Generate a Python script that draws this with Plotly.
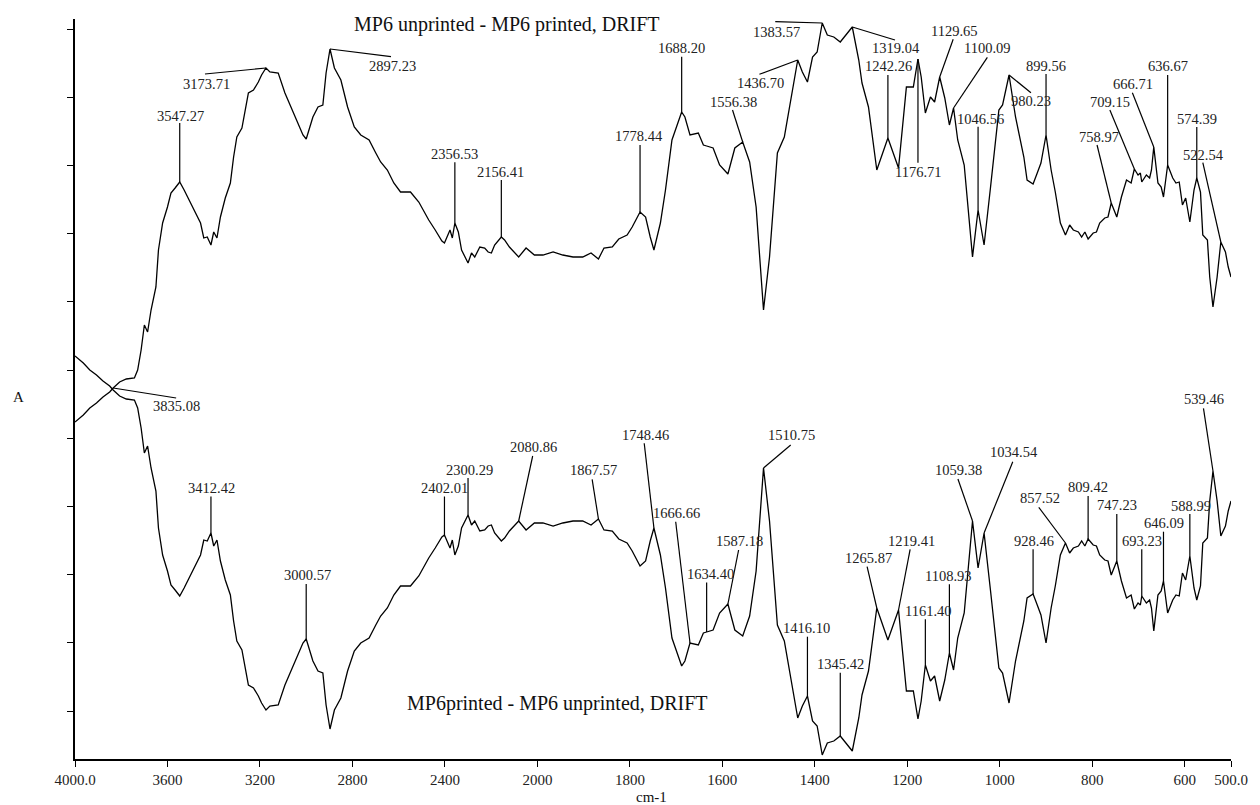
import plotly.graph_objects as go

# ---------------- data ----------------
wavenumber = [4000, 3964, 3936, 3907, 3879, 3850, 3835, 3807, 3778, 3743,
              3729, 3714, 3700, 3686, 3671, 3650, 3639, 3621, 3600, 3585,
              3567, 3547, 3528, 3500, 3478, 3457, 3443, 3428, 3412, 3400,
              3386, 3371, 3350, 3328, 3314, 3300, 3278, 3264, 3250, 3228,
              3207, 3193, 3174, 3157, 3121, 3092, 3064, 3035, 3014, 3000,
              2971, 2949, 2928, 2914, 2897, 2878, 2850, 2821, 2792, 2764,
              2728, 2699, 2678, 2649, 2621, 2592, 2549, 2513, 2470, 2442,
              2413, 2402, 2378, 2368, 2357, 2342, 2328, 2300, 2285, 2271,
              2249, 2228, 2213, 2199, 2185, 2156, 2142, 2121, 2081, 2049,
              2013, 1988, 1966, 1945, 1923, 1902, 1884, 1868, 1856, 1838,
              1824, 1806, 1795, 1778, 1766, 1756, 1748, 1734, 1723, 1709,
              1688, 1681, 1670, 1652, 1641, 1634, 1620, 1606, 1588, 1573,
              1556, 1541, 1527, 1511, 1498, 1481, 1466, 1437, 1427, 1416,
              1405, 1395, 1384, 1373, 1359, 1345, 1327, 1319, 1305, 1298,
              1284, 1266, 1242, 1219, 1202, 1187, 1177, 1170, 1161, 1150,
              1141, 1130, 1119, 1109, 1100, 1091, 1077, 1059, 1047, 1034,
              1020, 1002, 994, 980, 966, 948, 941, 928, 919, 911,
              900, 889, 880, 869, 858, 849, 841, 830, 823, 816,
              809, 798, 791, 784, 773, 766, 759, 747, 737, 726,
              716, 709, 701, 696, 693, 683, 676, 672, 667, 658,
              651, 646, 637, 626, 619, 612, 605, 598, 589, 580,
              574, 566, 561, 551, 546, 539, 530, 522, 512, 506,
              500]

# MP6 unprinted - MP6 printed (upper trace), arbitrary absorbance units
unprinted_minus_printed = [
    31.8, 32.5, 33.2, 33.7, 34.3, 34.8, 35.2, 35.8, 36.1, 36.2,
    37.0, 39.0, 41.5, 40.8, 43.0, 45.3, 49.0, 51.7, 53.3, 54.7,
    55.2, 55.8, 55.0, 53.7, 52.8, 51.7, 50.2, 50.3, 49.5, 50.8,
    50.2, 52.3, 54.2, 55.7, 58.3, 60.3, 61.2, 63.0, 64.7, 65.0,
    65.8, 66.5, 67.2, 66.8, 66.7, 64.7, 63.2, 61.8, 60.5, 60.1,
    62.3, 63.3, 63.5, 66.7, 69.1, 67.2, 66.0, 63.3, 61.3, 60.5,
    60.0, 58.7, 57.8, 57.0, 55.7, 54.8, 54.8, 53.8, 52.0, 51.0,
    49.9, 49.7, 51.0, 50.2, 51.7, 50.8, 49.0, 47.7, 48.7, 48.3,
    49.3, 49.2, 48.8, 48.7, 49.5, 50.3, 50.0, 49.3, 48.3, 49.2,
    48.5, 48.5, 48.8, 48.5, 48.3, 48.3, 48.7, 48.1, 49.2, 49.3,
    50.1, 50.5, 51.3, 52.8, 52.3, 50.3, 49.0, 51.7, 55.0, 60.0,
    62.8, 62.3, 60.5, 60.7, 59.5, 59.4, 59.2, 57.5, 56.6, 59.2,
    59.8, 57.8, 53.3, 43.0, 48.3, 58.7, 60.3, 68.0, 66.8, 65.8,
    68.3, 68.8, 71.7, 70.5, 70.3, 69.8, 70.8, 71.3, 68.0, 65.7,
    63.3, 57.0, 60.2, 57.2, 65.3, 65.3, 68.1, 66.3, 62.7, 64.3,
    63.8, 66.3, 64.2, 61.5, 63.2, 60.0, 57.5, 48.3, 53.0, 49.5,
    55.3, 63.0, 63.5, 66.5, 62.3, 58.3, 56.0, 55.6, 56.7, 57.7,
    60.5, 57.0, 54.8, 51.7, 50.5, 51.5, 51.0, 50.8, 50.3, 50.8,
    50.1, 50.7, 50.8, 51.7, 52.2, 52.3, 53.7, 52.3, 54.3, 56.0,
    55.7, 57.1, 56.5, 56.7, 55.8, 56.5, 56.2, 57.0, 59.3, 55.7,
    55.3, 54.3, 57.5, 56.2, 55.7, 55.8, 53.5, 54.2, 51.8, 55.0,
    56.2, 54.8, 50.5, 50.0, 46.3, 43.3, 46.3, 49.8, 48.8, 47.3,
    46.3]

# MP6 printed - MP6 unprinted (lower trace), arbitrary absorbance units
printed_minus_unprinted = [
    38.4, 37.7, 37.0, 36.5, 35.9, 35.4, 35.0, 34.4, 34.1, 34.0,
    33.2, 31.2, 28.7, 29.4, 27.2, 24.9, 21.2, 18.5, 16.9, 15.5,
    15.0, 14.4, 15.2, 16.5, 17.4, 18.5, 20.0, 19.9, 20.7, 19.4,
    20.0, 17.9, 16.0, 14.5, 11.9, 9.9, 9.0, 7.2, 5.5, 5.2,
    4.4, 3.7, 3.0, 3.4, 3.5, 5.5, 7.0, 8.4, 9.7, 10.1,
    7.9, 6.9, 6.7, 3.5, 1.1, 3.0, 4.2, 6.9, 8.9, 9.7,
    10.2, 11.5, 12.4, 13.2, 14.5, 15.4, 15.4, 16.4, 18.2, 19.2,
    20.3, 20.5, 19.2, 20.0, 18.5, 19.4, 21.2, 22.5, 21.5, 21.9,
    20.9, 21.0, 21.4, 21.5, 20.7, 19.9, 20.2, 20.9, 21.9, 21.0,
    21.7, 21.7, 21.4, 21.7, 21.9, 21.9, 21.5, 22.1, 21.0, 20.9,
    20.1, 19.7, 18.9, 17.4, 17.9, 19.9, 21.2, 18.5, 15.2, 10.2,
    7.4, 7.9, 9.7, 9.5, 10.7, 10.8, 11.0, 12.7, 13.6, 11.0,
    10.4, 12.4, 16.9, 27.2, 21.9, 11.5, 9.9, 2.2, 3.4, 4.4,
    1.9, 1.4, -1.5, -0.3, -0.1, 0.4, -0.6, -1.1, 2.2, 4.5,
    6.9, 13.2, 10.0, 13.0, 4.9, 4.9, 2.1, 3.9, 7.5, 5.9,
    6.4, 3.9, 6.0, 8.7, 7.0, 10.2, 12.7, 21.9, 17.2, 20.7,
    14.9, 7.2, 6.7, 3.7, 7.9, 11.9, 14.2, 14.6, 13.5, 12.5,
    9.7, 13.2, 15.4, 18.5, 19.7, 18.7, 19.2, 19.4, 19.9, 19.4,
    20.1, 19.5, 19.4, 18.5, 18.0, 17.9, 16.5, 17.9, 15.9, 14.2,
    14.5, 13.1, 13.7, 13.5, 14.4, 13.7, 14.0, 13.2, 10.9, 14.5,
    14.9, 15.9, 12.7, 14.0, 14.5, 14.4, 16.7, 16.0, 18.4, 15.2,
    14.0, 15.4, 19.7, 20.2, 23.9, 26.9, 23.9, 20.4, 21.4, 22.9,
    23.9]

tick_wavenumbers = [4000, 3600, 3200, 2800, 2400, 2000, 1800, 1600,
                    1400, 1200, 1000, 800, 600, 500]
tick_labels = ["4000.0", "3600", "3200", "2800", "2400", "2000", "1800",
               "1600", "1400", "1200", "1000", "800", "600", "500.0"]

upper_peak_labels = ["3835.08", "3547.27", "3173.71", "2897.23", "2356.53",
                     "2156.41", "1778.44", "1688.20", "1556.38", "1436.70",
                     "1383.57", "1319.04", "1242.26", "1176.71", "1129.65",
                     "1100.09", "1046.56", "980.23", "899.56", "758.97",
                     "709.15", "666.71", "636.67", "574.39", "522.54"]
lower_peak_labels = ["3412.42", "3000.57", "2402.01", "2300.29", "2080.86",
                     "1867.57", "1748.46", "1666.66", "1634.40", "1587.18",
                     "1510.75", "1416.10", "1345.42", "1265.87", "1219.41",
                     "1161.40", "1108.93", "1059.38", "1034.54", "928.46",
                     "857.52", "809.42", "747.23", "693.23", "646.09",
                     "588.99", "539.46"]

# ---------------- layout helpers (positions / styles) ----------------
# leader line end (dx, up) and label centre (dx, up), in pixels from the peak
upper_label_layout = [
    (63, -10, 63, -19), (0, 59, 0.4, 65.5), (-61, -6, -59, -17),
    (61, -7.7, 62, -18.3), (0, 60.7, -0.6, 68), (0, 57, -0.8, 64),
    (0, 67, -0.9, 74.7), (0, 55.3, 0, 62.7), (-10.2, 32, -9.3, 39.5),
    (-38.3, -14.3, -37, -24), (-47, 1.3, -45.4, -9.7), (42.7, -13, 43.8, -22.3),
    (0, 63, 0.3, 70.7), (0, -103.7, 1, -113.7), (13.5, 37.7, 14.5, 45.3),
    (33.8, 50.7, 34.1, 58.7), (0, 83.3, 2.4, 90), (21.9, -17.7, 22.1, -26.7),
    (0, 61, 0.3, 68.3), (-14.2, 58, -12.7, 65.3), (-24.5, 59, -24, 66.3),
    (-21.4, 54.3, -20.6, 62), (0, 90, 0.7, 97.7), (0, 51, -0.2, 58),
    (-18, 79.3, -17, 86.3)]
lower_label_layout = [
    (0, 36.5, 0.5, 44), (0, 55, 1.5, 63), (0, 38.5, 0, 46), (0, 37, 1, 44.5),
    (14, 65, 15.3, 72.7), (-6.3, 39.7, -4.8, 48), (-9.7, 84.7, -8.2, 92),
    (-14.3, 121.3, -13.6, 129), (0, 49.5, 3.7, 57), (10.7, 54, 11.7, 62.3),
    (27.2, 23, 27.5, 32), (0, 59.3, -0.5, 66.7), (0, 63.3, 0.3, 71),
    (-9.7, 41.3, -8.7, 48.7), (11.6, 60.7, 13.1, 68.3), (0, 45.7, 3.5, 53.3),
    (0, 68.7, -1, 76), (-14.6, 42, -14.1, 50), (28.7, 71.3, 29.7, 79.7),
    (0, 44.7, 0.6, 52.3), (-26.7, 35.7, -25.7, 43.7), (0, 43, 0.3, 50.7),
    (0, 47, 0, 55), (0, 46.7, 0, 54.3), (0, 49.3, 1, 57), (0, 42, 0.8, 49.3),
    (-9.5, 62.7, -8.8, 71)]

FONT = "Liberation Serif, Times New Roman, serif"


def xpos(w):
    """Spectrometer-style axis: scale doubles below 2000 cm-1."""
    return w if w <= 2000 else 2000 + (w - 2000) / 2.0


xs = [xpos(w) for w in wavenumber]

fig = go.Figure()
for ys in (unprinted_minus_printed, printed_minus_unprinted):
    fig.add_trace(go.Scatter(x=xs, y=ys, mode="lines",
                             line=dict(color="black", width=1.3),
                             hoverinfo="skip", showlegend=False))

shapes, annotations = [], []


def nearest(w):
    return min(range(len(wavenumber)), key=lambda i: abs(wavenumber[i] - w))


for labels, layout_list, series in ((upper_peak_labels, upper_label_layout, unprinted_minus_printed),
                                    (lower_peak_labels, lower_label_layout, printed_minus_unprinted)):
    for lab, (ldx, lup, tdx, tup) in zip(labels, layout_list):
        i = nearest(float(lab))
        xa, ya = xs[i], series[i]
        shapes.append(dict(type="line", xref="x", yref="y",
                           xsizemode="pixel", ysizemode="pixel",
                           xanchor=xa, yanchor=ya, x0=0, y0=0, x1=ldx, y1=lup,
                           line=dict(color="black", width=1.2)))
        annotations.append(dict(x=xa, y=ya, xref="x", yref="y", text=lab,
                                showarrow=False, xshift=tdx, yshift=tup + 1,
                                xanchor="center", yanchor="middle",
                                font=dict(family=FONT, size=14.5, color="#222")))

annotations += [
    dict(x=0.374, y=0.993, xref="paper", yref="paper", showarrow=False,
         xanchor="center", yanchor="middle",
         text="MP6 unprinted - MP6 printed, DRIFT",
         font=dict(family=FONT, size=20, color="#111")),
    dict(x=0.4177, y=0.0753, xref="paper", yref="paper", showarrow=False,
         xanchor="center", yanchor="middle",
         text="MP6printed - MP6 unprinted, DRIFT",
         font=dict(family=FONT, size=20, color="#111")),
    dict(x=-0.0489, y=0.489, xref="paper", yref="paper", showarrow=False,
         xanchor="center", yanchor="middle",
         text="A", font=dict(family=FONT, size=15, color="#111")),
    dict(x=0.4983, y=-0.051, xref="paper", yref="paper", showarrow=False,
         xanchor="center", yanchor="middle",
         text="cm-1", font=dict(family=FONT, size=15, color="#111")),
]

fig.update_layout(
    width=1260, height=805,
    margin=dict(l=75, r=19, t=19, b=46),
    paper_bgcolor="white", plot_bgcolor="white",
    shapes=shapes, annotations=annotations,
    xaxis=dict(range=[xpos(4000), xpos(500)],
               tickvals=[xpos(w) for w in tick_wavenumbers], ticktext=tick_labels,
               showgrid=False, zeroline=False, showline=True, linecolor="black",
               linewidth=1.5, ticks="outside", ticklen=6, tickwidth=1.2,
               tickcolor="black", ticklabelstandoff=0,
               tickfont=dict(family=FONT, size=15, color="#222")),
    yaxis=dict(range=[-1.9, 72.1], tick0=2.9, dtick=6.82,
               showgrid=False, zeroline=False, showline=True, linecolor="black",
               linewidth=1.5, ticks="outside", ticklen=6, tickwidth=1.2,
               tickcolor="black", showticklabels=False),
)

fig.write_html("out.html")
